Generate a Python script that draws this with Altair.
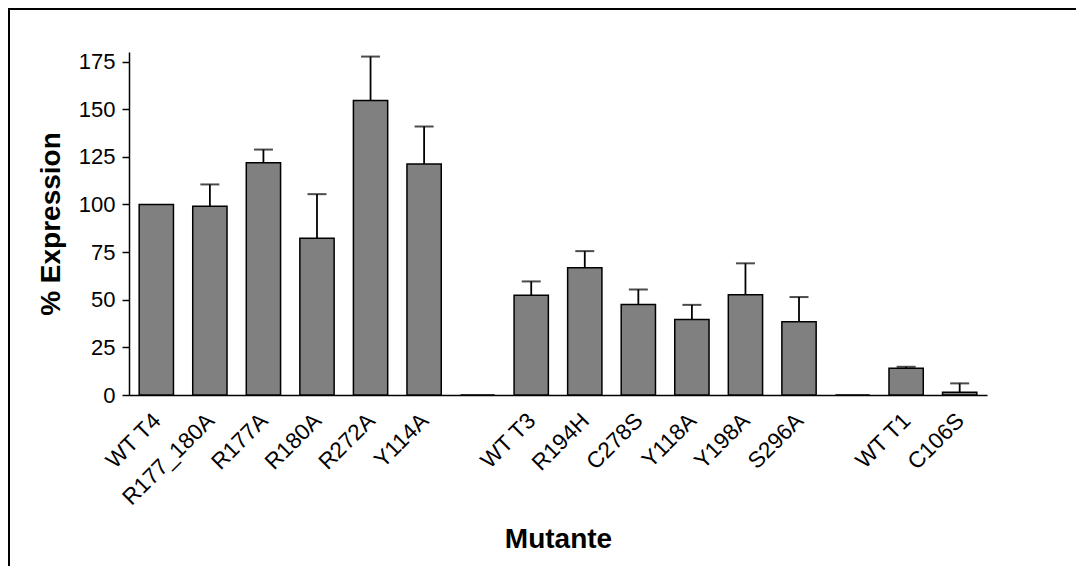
import altair as alt
import pandas as pd

categories = ["WT T4", "R177_180A", "R177A", "R180A", "R272A", "Y114A", " ",
              "WT T3", "R194H", "C278S", "Y118A", "Y198A", "S296A", "  ",
              "WT T1", "C106S"]
expression = [100, 99.0, 121.9, 82.2, 154.5, 121.2, 0,
              52.4, 66.8, 47.5, 39.6, 52.6, 38.4, 0,
              14.0, 1.4]
error_top = [None, 110.5, 128.8, 105.4, 177.6, 140.9, None,
             59.6, 75.5, 55.4, 47.3, 69.1, 51.4, None,
             14.8, 6.1]
y_ticks = [0, 25, 50, 75, 100, 125, 150, 175]

df = pd.DataFrame({"Mutante": categories, "Expression": expression, "Top": error_top})

FONT = "Liberation Sans"

x_enc = alt.X("Mutante:N", sort=categories,
              scale=alt.Scale(paddingInner=0.36, paddingOuter=0.19),
              axis=alt.Axis(title="Mutante", ticks=False, labelAngle=-45,
                            labelFontSize=22.5, labelFont=FONT, labelColor="black",
                            labelPadding=14, labelOffset=-7,
                            domainColor="black", domainWidth=1.5,
                            titleFontSize=28, titleFont=FONT, titleFontWeight="bold",
                            titleColor="black", titleY=152, titleBaseline="alphabetic"))

y_scale = alt.Scale(domain=[0, 180], nice=False)
y_axis = alt.Axis(title="% Expression", values=y_ticks, grid=False, tickSize=7,
                  tickColor="black", tickWidth=1.5, domainColor="black", domainWidth=1.5,
                  labelFontSize=22, labelFont=FONT, labelColor="black", labelPadding=7,
                  titleFontSize=28, titleFont=FONT, titleFontWeight="bold",
                  titleColor="black", titleX=-70, titleBaseline="alphabetic")

base = alt.Chart(df)

bars = base.mark_bar(fill="#808080", stroke="black", strokeWidth=1.5).encode(
    x=x_enc,
    y=alt.Y("Expression:Q", scale=y_scale, axis=y_axis),
)

err = base.transform_filter("isValid(datum.Top)").mark_rule(color="black", strokeWidth=1.8).encode(
    x=alt.X("Mutante:N", sort=categories),
    y=alt.Y("Expression:Q"),
    y2="Top:Q",
)

caps = base.transform_filter("isValid(datum.Top)").mark_tick(color="black", size=19, thickness=2).encode(
    x=alt.X("Mutante:N", sort=categories),
    y=alt.Y("Top:Q"),
)

frame_data = alt.Data(values=[{"k": 1}])
frame_top = alt.Chart(frame_data).mark_rule(color="black", strokeWidth=2).encode(
    x=alt.value(-121), x2=alt.value(1068 - 121), y=alt.value(-43))
frame_left = alt.Chart(frame_data).mark_rule(color="black", strokeWidth=2).encode(
    x=alt.value(-120), y=alt.value(-44), y2=alt.value(558 - 44))

chart = alt.layer(bars, err, caps, frame_top, frame_left).properties(
    width=858, height=343,
    padding={"left": 121, "top": 44, "right": 89, "bottom": 171},
    autosize=alt.AutoSizeParams(type="none"),
    background="white",
).configure_view(strokeWidth=0, stroke="transparent")

chart.save("out.html", embed_options={"renderer": "svg", "actions": False})
